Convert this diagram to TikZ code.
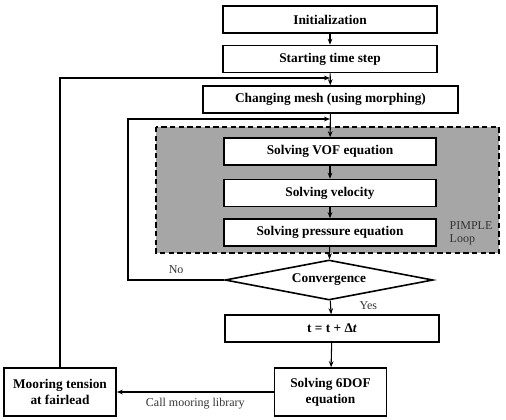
\documentclass[tikz,border=0pt]{standalone}
\usepackage{fontspec}
\setmainfont{Liberation Serif}
\usepackage{tikz}
\usetikzlibrary{shapes.geometric, arrows.meta, positioning}

\tikzset{
  stepbox/.style={draw, fill=white, line width=1.2pt, font=\bfseries, inner sep=2pt,
    minimum width=160.5pt, minimum height=20.25pt},
  tallbox/.style={stepbox, minimum width=84pt, minimum height=36pt, align=center},
  flow/.style={line width=0.8pt, -{Stealth[length=4.5pt, width=3.5pt]}},
  note/.style={font=\fontsize{9}{10}\selectfont, text=black!80},
}

\begin{document}
\begin{tikzpicture}[x=0.75pt, y=-0.75pt]
  \useasboundingbox (0,0) rectangle (506,419);
  % PIMPLE loop background
  \fill[gray!70] (156,127) rectangle (499,253);
  \draw[line width=1.2pt, dash pattern=on 4pt off 2.5pt] (156,127) rectangle (499,253);
  \node[note, align=left, anchor=west] (pimple) at (445,233.5) {PIMPLE\\Loop};

  \node[stepbox] (init)  at (330,19.5)  {Initialization};
  \node[stepbox] (start) at (330,59)    {Starting time step};
  \node[stepbox, minimum width=191pt] (mesh) at (330.5,99.5) {Changing mesh (using morphing)};
  \node[stepbox, minimum width=159pt] (vof)  at (330,151.5) {Solving VOF equation};
  \node[stepbox, minimum width=159pt] (vel)  at (330,193)   {Solving velocity};
  \node[stepbox, minimum width=159pt] (pres) at (330,232.5) {Solving pressure equation};
  \node[draw, fill=white, line width=1.2pt, diamond, aspect=5, inner sep=0pt,
        minimum width=156pt, minimum height=30pt, font=\bfseries] (conv) at (329,280) {Convergence};
  \node[stepbox] (tstep) at (332,328.5) {t = t + Δ\textit{t}};
  \node[tallbox] (sixdof) at (330.5,392) {Solving 6DOF\\equation};
  \node[tallbox] (moor)   at (60,392)    {Mooring tension\\at fairlead};

  \coordinate (outer) at (330,78);
  \coordinate (inner) at (330,119);

  \draw[flow] (init) -- (start);
  \draw[flow] (start) -- (mesh);
  \draw[flow] (mesh) -- (vof);
  \draw[flow] (vof) -- (vel);
  \draw[flow] (vel) -- (pres);
  \draw[flow] (pres) -- (conv);
  \draw[flow] (conv) -- node[note, right=18pt, pos=0.35] {Yes} (tstep);
  \draw[flow] (tstep) -- (sixdof);
  \draw[flow] (sixdof) -- node[note, below=1pt] {Call mooring library} (moor);
  \draw[flow] (conv.west) -- node[note, above=1pt] {No} (128,280) |- (inner);
  \draw[flow] (moor.north) |- (outer);
\end{tikzpicture}
\end{document}
